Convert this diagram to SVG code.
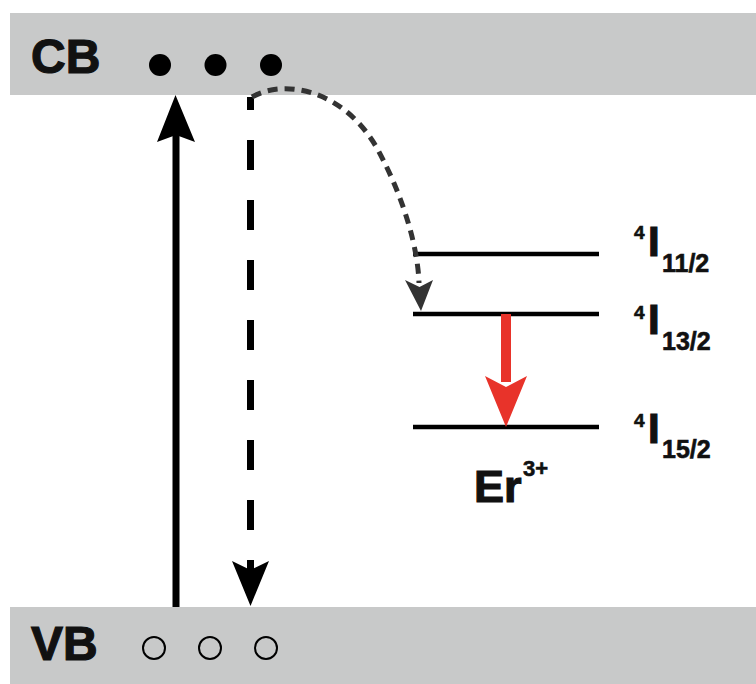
<svg xmlns="http://www.w3.org/2000/svg" width="756" height="684" viewBox="0 0 756 684">
<style>
.band{fill:#c8c9c9}
.lbl{font-family:"Liberation Sans",Arial,sans-serif;font-weight:bold;fill:#111;stroke:#111;stroke-width:0.6}
.big{stroke-width:1.2}
.lvl{stroke:#000;stroke-width:4.5;fill:none}
</style>
<rect width="756" height="684" fill="#fff"/>
<g id="cb">
<rect class="band" x="10" y="13" width="746" height="82"/>
<text class="lbl big" x="31" y="73" font-size="48">CB</text>
<circle cx="160" cy="65" r="11" fill="#000"/>
<circle cx="215.5" cy="65" r="11" fill="#000"/>
<circle cx="271" cy="65" r="11" fill="#000"/>
</g>
<g id="vb">
<rect class="band" x="10" y="607" width="746" height="77"/>
<text class="lbl big" x="31" y="660" font-size="48">VB</text>
<circle cx="154" cy="648" r="11" fill="none" stroke="#000" stroke-width="2"/>
<circle cx="210" cy="648" r="11" fill="none" stroke="#000" stroke-width="2"/>
<circle cx="266" cy="648" r="11" fill="none" stroke="#000" stroke-width="2"/>
</g>
<g id="level-11-2">
<line class="lvl" x1="413" y1="254" x2="599" y2="254"/>
<text class="lbl" x="634" y="239" font-size="19">4</text>
<text class="lbl big" x="648" y="256" font-size="42">I</text>
<text class="lbl" x="662" y="272" font-size="25">11/2</text>
</g>
<g id="level-13-2">
<line class="lvl" x1="413" y1="314" x2="599" y2="314"/>
<text class="lbl" x="634" y="319" font-size="19">4</text>
<text class="lbl big" x="648" y="334" font-size="42">I</text>
<text class="lbl" x="662" y="350" font-size="25">13/2</text>
</g>
<g id="level-15-2">
<line class="lvl" x1="413" y1="427" x2="599" y2="427"/>
<text class="lbl" x="634" y="427" font-size="19">4</text>
<text class="lbl big" x="648" y="443" font-size="42">I</text>
<text class="lbl" x="662" y="458" font-size="25">15/2</text>
</g>
<g id="er-label">
<text class="lbl big" x="474" y="502" font-size="45">Er</text>
<text class="lbl" x="523" y="476" font-size="22">3+</text>
</g>
<g id="connectors">
<line x1="176" y1="607" x2="176" y2="130" stroke="#000" stroke-width="7"/>
<polygon points="175.5,95 195,142 176,135 157,142" fill="#000"/>
<line x1="250.5" y1="97" x2="250.5" y2="570" stroke="#000" stroke-width="7" stroke-dasharray="30 30" stroke-dashoffset="17"/>
<polygon points="250.5,606 232,561 250.5,570 269,561" fill="#000"/>
<path d="M252,97 C285,78 345,90 378,150 C405,200 418,250 419,283" fill="none" stroke="#333" stroke-width="5" stroke-dasharray="10 7"/>
<polygon points="421,311 405,280 419.5,287 433,280" fill="#333"/>
<line x1="506" y1="314" x2="506" y2="382" stroke="#e8332a" stroke-width="10"/>
<polygon points="506,427 485,376 506,387 527,376" fill="#e8332a"/>
</g>
</svg>
